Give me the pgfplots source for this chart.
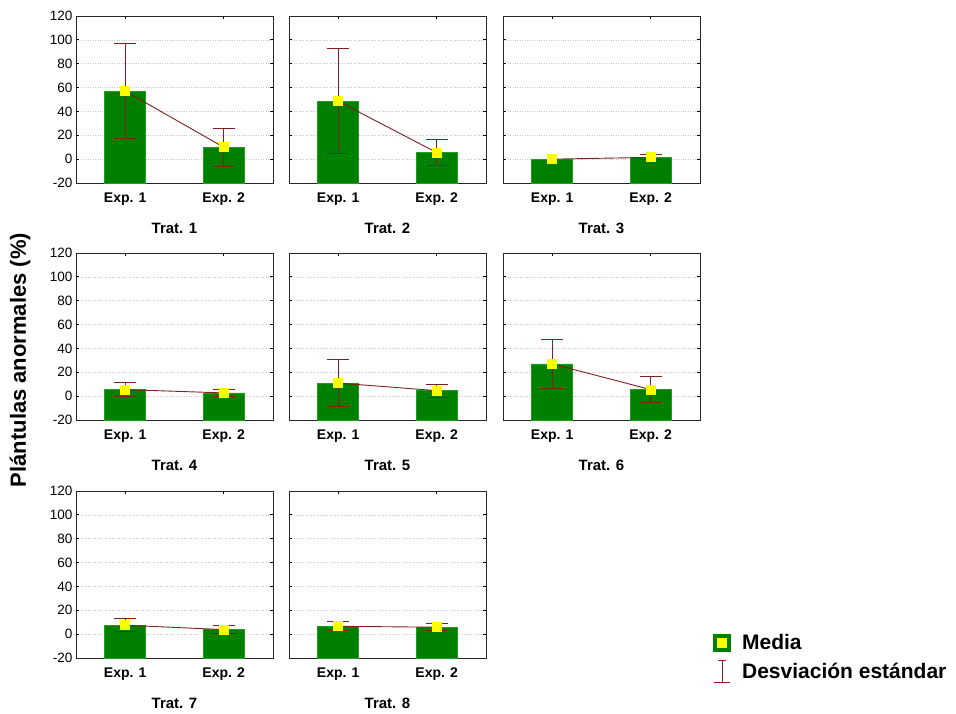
\documentclass[border=0pt]{standalone}
\usepackage{pgfplots}
\usepackage{pgfplotstable}
\pgfplotsset{compat=1.18}
\usepackage{fontspec}
\setmainfont{Liberation Sans}

\definecolor{barg}{RGB}{0,128,0}
\definecolor{bare}{RGB}{30,160,30}
\definecolor{errc}{RGB}{128,32,32}
\definecolor{mk}{RGB}{255,255,0}

% x: 0 = Exp. 1, 1 = Exp. 2 ; m = media (%), sd = desviacion estandar
\pgfplotstableread{
x m sd
0 57 40
1 10 16
}\tA
\pgfplotstableread{
x m sd
0 48.5 44
1 5.5 11
}\tB
\pgfplotstableread{
x m sd
0 0 0
1 1.5 2
}\tC
\pgfplotstableread{
x m sd
1 1.5 2
}\tCe
\pgfplotstableread{
x m sd
0 5.5 6
1 2.7 2.8
}\tD
\pgfplotstableread{
x m sd
0 11 20
1 4.6 5.5
}\tE
\pgfplotstableread{
x m sd
0 27 20.5
1 5.5 11
}\tF
\pgfplotstableread{
x m sd
0 7.5 5.3
1 3.8 3.6
}\tG
\pgfplotstableread{
x m sd
0 6.6 3.6
1 5.8 3
}\tH

\pgfplotsset{panel/.style={
  scale only axis, width=197pt, height=167pt, anchor=north west,
  xmin=-0.5, xmax=1.5, ymin=0, ymax=140,
  xtick={0,1}, xticklabels={Exp. 1, Exp. 2},
  ytick={0,20,...,140}, yticklabels={-20,0,20,40,60,80,100,120},
  tick align=inside, tick pos=both, major tick length=3pt,
  ymajorgrids, major grid style={dotted, gray!45, line width=0.6pt},
  axis line style={line width=0.8pt, black!85},
  tick style={black, line width=0.8pt},
  xticklabel style={font=\bfseries\fontsize{14}{16}\selectfont, yshift=-6pt},
  yticklabel style={font=\fontsize{13.5}{16}\selectfont},
  xlabel style={font=\bfseries\fontsize{15}{18}\selectfont, at={(axis description cs:0.5,0)}, anchor=center, yshift=-45pt},
}}

% #1 left, #2 top, #3 table, #4 error table, #5 title, #6 options, #7 extra
\newcommand\panel[7]{%
\begin{axis}[panel, at={(#1pt,-#2pt)}, xlabel={#5}, #6]
\addplot[ybar, bar width=41pt, fill=barg, draw=bare, line width=0.8pt, forget plot] table[x=x, y expr=\thisrow{m}+20] {#3};
\addplot[color=errc, draw=none, mark=none, forget plot, error bars/.cd, y dir=both, y explicit, error bar style={draw=errc, color=errc, line width=1pt}, error mark options={rotate=90, mark size=11pt, draw=errc, color=errc, line width=1pt}] table[x=x, y expr=\thisrow{m}+20, y error=sd] {#4};
\addplot[errc, line width=0.9pt, mark=square*, mark size=4.5pt, mark options={fill=mk, draw=mk}, forget plot] table[x=x, y expr=\thisrow{m}+20] {#3};
#7
\end{axis}}

\begin{document}
\begin{tikzpicture}
\useasboundingbox (0,0) rectangle (956pt,-713pt);
\panel{76}{16}{\tA}{\tA}{Trat. 1}{}{}
\panel{289}{16}{\tB}{\tB}{Trat. 2}{yticklabels={}}{}
\panel{503}{16}{\tC}{\tCe}{Trat. 3}{yticklabels={}}{}
\panel{76}{253}{\tD}{\tD}{Trat. 4}{}{}
\panel{289}{253}{\tE}{\tE}{Trat. 5}{yticklabels={}}{}
\panel{503}{253}{\tF}{\tF}{Trat. 6}{yticklabels={}}{}
\panel{76}{491}{\tG}{\tG}{Trat. 7}{}{}
\panel{289}{491}{\tH}{\tH}{Trat. 8}{yticklabels={},
  legend style={at={(axis description cs:2.152,0.156)}, anchor=north west, draw=none, fill=none, font=\bfseries\fontsize{21}{24}\selectfont, legend cell align=left, inner sep=0pt, row sep=7pt, /tikz/every odd column/.append style={column sep=9pt}}}{%
\addlegendimage{legend image code/.code={\draw[draw=barg, fill=mk, line width=4pt] (2pt,-7pt) rectangle (16pt,7pt);}}
\addlegendentry{Media}
\addlegendimage{legend image code/.code={\draw[errc, line width=1pt] (9pt,-11pt)--(9pt,11pt) (5pt,11pt)--(13pt,11pt) (1pt,-11pt)--(17pt,-11pt);}}
\addlegendentry{Desviación estándar}
}
\node[rotate=90, font=\bfseries\fontsize{22}{24}\selectfont] at (20pt,-360pt) {Plántulas anormales (\%)};
\end{tikzpicture}
\end{document}
